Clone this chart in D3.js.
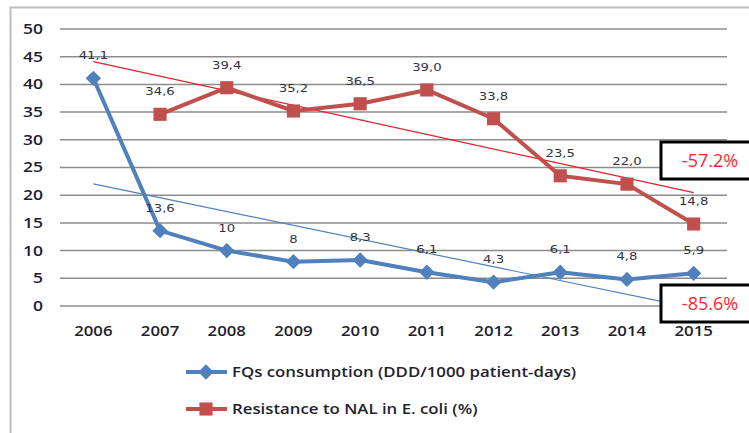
<!DOCTYPE html>
<html>
<head>
<meta charset="utf-8">
<script src="https://cdn.jsdelivr.net/npm/d3@7"></script>
<style>
  body { margin: 0; background: #fff; }
  svg { display: block; }
</style>
</head>
<body>
<div id="chart"></div>
<script>
// data
var years = ["2006", "2007", "2008", "2009", "2010", "2011", "2012", "2013", "2014", "2015"];
var fqValues = [41.1, 13.6, 10, 8, 8.3, 6.1, 4.3, 6.1, 4.8, 5.9];
var fqLabels = ["41,1", "13,6", "10", "8", "8,3", "6,1", "4,3", "6,1", "4,8", "5,9"];
var nalValues = [null, 34.6, 39.4, 35.2, 36.5, 39.0, 33.8, 23.5, 22.0, 14.8];
var nalLabels = ["", "34,6", "39,4", "35,2", "36,5", "39,0", "33,8", "23,5", "22,0", "14,8"];
var yTicks = [0, 5, 10, 15, 20, 25, 30, 35, 40, 45, 50];
var seriesNames = ["FQs consumption (DDD/1000 patient-days)", "Resistance to NAL in E. coli (%)"];
var changeLabels = ["-57.2%", "-85.6%"];

var W = 749, H = 433;
var blue = "#4f81bd", red = "#c0504d";

var svg = d3.select("#chart").append("svg")
    .attr("width", W)
    .attr("height", H);

// the original picture is a bit wider than tall, so text is stretched sideways
function stretch(sel, k) {
    sel.each(function() {
        var len = this.getComputedTextLength();
        d3.select(this)
            .attr("textLength", len * k)
            .attr("lengthAdjust", "spacingAndGlyphs");
    });
}

// outer frame (only top and left visible)
svg.append("path")
    .attr("d", "M10.5," + H + "V7.5H" + W)
    .attr("fill", "none")
    .attr("stroke", "#bdbdbd")
    .attr("stroke-width", 2);

var x = d3.scaleBand().domain(years).range([60, 727]);
var y = d3.scaleLinear().domain([0, 50]).range([306, 29]);
var cx = function(i) { return x(years[i]) + x.bandwidth() / 2; };

// gridlines
svg.append("g").selectAll("line")
    .data(yTicks)
    .enter().append("line")
    .attr("x1", 60).attr("x2", 727)
    .attr("y1", function(d) { return y(d); })
    .attr("y2", function(d) { return y(d); })
    .attr("stroke", "#8c8c8c")
    .attr("stroke-width", 1.5);

// y axis labels
var yAxis = d3.axisLeft(y).tickValues(yTicks).tickSize(0).tickPadding(0);
var ya = svg.append("g")
    .attr("transform", "translate(43,0)")
    .call(yAxis);
ya.select(".domain").remove();
ya.selectAll("text")
    .attr("font-family", "Open Sans, sans-serif")
    .attr("font-size", "14px")
    .attr("font-weight", 600)
    .attr("fill", "#1f1f2f")
    .call(stretch, 1.25);

// x axis labels
var xAxis = d3.axisBottom(x).tickSize(0).tickPadding(0);
var xa = svg.append("g")
    .attr("transform", "translate(0,326)")
    .call(xAxis);
xa.select(".domain").remove();
xa.selectAll("text")
    .attr("font-family", "Open Sans, sans-serif")
    .attr("font-size", "14px")
    .attr("font-weight", 600)
    .attr("fill", "#1f1f2f")
    .call(stretch, 1.2);

// linear trendlines (least squares, like the spreadsheet trendline)
function trend(vals) {
    var pts = [];
    vals.forEach(function(v, i) { if (v != null) pts.push([i, v]); });
    var mx = d3.mean(pts, function(p) { return p[0]; });
    var my = d3.mean(pts, function(p) { return p[1]; });
    var sxy = d3.sum(pts, function(p) { return (p[0] - mx) * (p[1] - my); });
    var sxx = d3.sum(pts, function(p) { return (p[0] - mx) * (p[0] - mx); });
    var b = sxy / sxx;
    var a = my - b * mx;
    return [[0, a], [vals.length - 1, a + b * (vals.length - 1)]];
}

var trendLine = d3.line()
    .x(function(d) { return cx(d[0]); })
    .y(function(d) { return y(d[1]); });

svg.append("path")
    .attr("d", trendLine(trend(nalValues)))
    .attr("fill", "none")
    .attr("stroke", "#e0202a")
    .attr("stroke-width", 1.2);

svg.append("path")
    .attr("d", trendLine(trend(fqValues)))
    .attr("fill", "none")
    .attr("stroke", blue)
    .attr("stroke-width", 1.2);

// series lines
var line = d3.line()
    .defined(function(d) { return d != null; })
    .x(function(d, i) { return cx(i); })
    .y(function(d) { return y(d); });

svg.append("path")
    .attr("d", line(nalValues))
    .attr("fill", "none")
    .attr("stroke", red)
    .attr("stroke-width", 4)
    .attr("stroke-linejoin", "round");

svg.append("path")
    .attr("d", line(fqValues))
    .attr("fill", "none")
    .attr("stroke", blue)
    .attr("stroke-width", 4)
    .attr("stroke-linejoin", "round");

var diamond = d3.symbol().type(d3.symbolDiamond2).size(150);
var square = d3.symbol().type(d3.symbolSquare2).size(220);

// markers
svg.append("g").selectAll("path")
    .data(nalValues.map(function(v, i) { return [i, v]; }).filter(function(d) { return d[1] != null; }))
    .enter().append("path")
    .attr("d", square)
    .attr("transform", function(d) { return "translate(" + cx(d[0]) + "," + y(d[1]) + ")"; })
    .attr("fill", red);

svg.append("g").selectAll("path")
    .data(fqValues.map(function(v, i) { return [i, v]; }))
    .enter().append("path")
    .attr("d", diamond)
    .attr("transform", function(d) { return "translate(" + cx(d[0]) + "," + y(d[1]) + ")"; })
    .attr("fill", blue);

// data labels
function labels(vals, texts) {
    svg.append("g").selectAll("text")
        .data(vals.map(function(v, i) { return [i, v, texts[i]]; }).filter(function(d) { return d[1] != null; }))
        .enter().append("text")
        .attr("x", function(d) { return cx(d[0]); })
        .attr("y", function(d) { return y(d[1]) - 19; })
        .attr("text-anchor", "middle")
        .attr("font-family", "DejaVu Sans, sans-serif")
        .attr("font-size", "11px")
        .attr("fill", "#333344")
        .text(function(d) { return d[2]; })
        .call(stretch, 1.2);
}
labels(nalValues, nalLabels);
labels(fqValues, fqLabels);

// change boxes
var boxes = [[142, changeLabels[0]], [285, changeLabels[1]]];
boxes.forEach(function(b) {
    svg.append("rect")
        .attr("x", 661).attr("y", b[0])
        .attr("width", 100).attr("height", 37)
        .attr("fill", "#fff")
        .attr("stroke", "#000")
        .attr("stroke-width", 3);
    svg.append("text")
        .attr("x", 710).attr("y", b[0] + 25)
        .attr("text-anchor", "middle")
        .attr("font-family", "Open Sans, sans-serif")
        .attr("font-size", "18px")
        .attr("fill", "#ff1f2f")
        .text(b[1]);
});

// legend
var legend = svg.append("g");
var legItems = [[372, blue, diamond, seriesNames[0]], [409, red, square, seriesNames[1]]];
legItems.forEach(function(l) {
    legend.append("line")
        .attr("x1", 186).attr("x2", 227)
        .attr("y1", l[0]).attr("y2", l[0])
        .attr("stroke", l[1])
        .attr("stroke-width", 4);
    legend.append("path")
        .attr("d", l[2])
        .attr("transform", "translate(206," + l[0] + ")")
        .attr("fill", l[1]);
    legend.append("text")
        .attr("x", 232).attr("y", l[0] + 5)
        .attr("font-family", "Open Sans, sans-serif")
        .attr("font-size", "14px")
        .attr("font-weight", 600)
        .attr("fill", "#1f1f2f")
        .text(l[3])
        .call(stretch, 1.2);
});
</script>
</body>
</html>
